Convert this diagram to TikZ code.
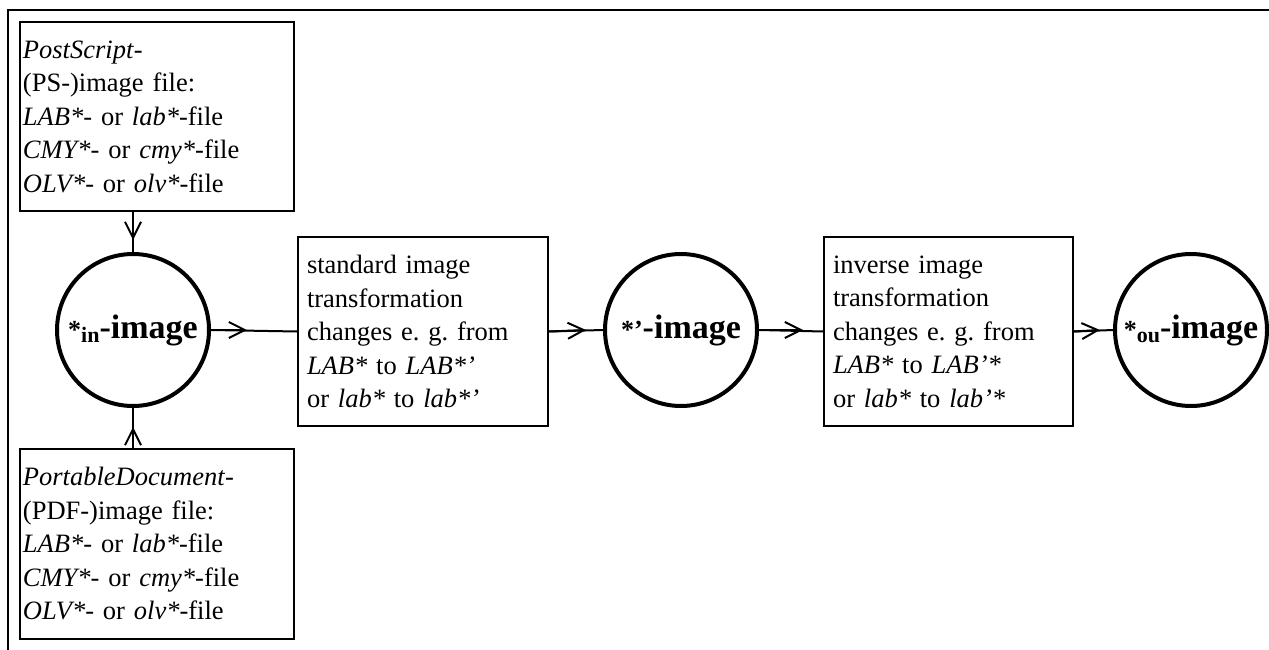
\documentclass[tikz,border=0pt]{standalone}
\usepackage{fontspec}
\setmainfont{Liberation Serif}
\usetikzlibrary{arrows.meta,calc}
\frenchspacing
\newcommand{\stagelabel}[2]{{\fontsize{26}{26}\selectfont\bfseries *}{\fontsize{22}{22}\selectfont\bfseries\raisebox{-4pt}{#1}}{\fontsize{26}{26}\selectfont\bfseries #2}{\fontsize{34}{34}\selectfont\bfseries -image}}
\begin{document}
\begin{tikzpicture}[x=1pt,y=-1pt,
  frame/.style={line width=2pt},
  filebox/.style={draw, line width=2pt, align=left, anchor=north west, inner ysep=0pt,
    font=\fontsize{26.5}{33.5}\selectfont},
  stage/.style={circle, draw, line width=4pt, minimum size=152pt, inner sep=0pt},
  conn/.style={line width=2pt},
  tip/.style={line width=2pt, -{Straight Barb[length=16pt,width=16pt]}}
]
\useasboundingbox (0,0) rectangle (1269,650);
% outer frame (top and left only)
\draw[frame] (8,650) -- (8,10) -- (1269,10);

% file boxes
\node[filebox, inner xsep=3pt, text width=268pt, minimum height=189pt] (ps) at (19,21)
  {\textit{PostScript}-\\(PS-)image file:\\\textit{LAB*}- or \textit{lab*}-file\\\textit{CMY*}- or \textit{cmy*}-file\\\textit{OLV*}- or \textit{olv*}-file};
\node[filebox, inner xsep=3pt, text width=268pt, minimum height=190pt] (pdf) at (19,448)
  {\textit{PortableDocument}-\\(PDF-)image file:\\\textit{LAB*}- or \textit{lab*}-file\\\textit{CMY*}- or \textit{cmy*}-file\\\textit{OLV*}- or \textit{olv*}-file};

% transformation boxes
\node[filebox, inner xsep=9pt, text width=232pt, minimum height=189pt] (std) at (297,236)
  {standard image\\transformation\\changes e. g. from\\\textit{LAB*} to \textit{LAB*'}\\or \textit{lab*} to \textit{lab*'}};
\node[filebox, inner xsep=9pt, text width=231pt, minimum height=189pt] (inv) at (823,236)
  {inverse image\\transformation\\changes e. g. from\\\textit{LAB*} to \textit{LAB'*}\\or \textit{lab*} to \textit{lab'*}};

% image circles
\node[stage] (cin) at (133,330) {\stagelabel{in}{}};
\node[stage] (cpr) at (681,330) {{\fontsize{26}{26}\selectfont\bfseries *'}{\fontsize{34}{34}\selectfont\bfseries -image}};
\node[stage] (cou) at (1191,330) {\stagelabel{ou}{}};

% arrow tip positions
\coordinate (t1) at (133,240);
\coordinate (t2) at (133,427);
\coordinate (t3) at (247,330);
\coordinate (t4) at (586,330);
\coordinate (t5) at (803,330);
\coordinate (t6) at (1100,330);

% connectors
\draw[conn] (cin.north |- ps.south) -- (cin.north);
\draw[tip] (cin.north |- ps.south) -- (t1);
\draw[conn] (cin.south |- pdf.north) -- (cin.south);
\draw[tip] (cin.south |- pdf.north) -- (t2);
\draw[conn] (cin.east) -- (std.west);
\draw[tip] (cin.east) -- (t3);
\draw[conn] (std.east) -- (cpr.west);
\draw[tip] (std.east) -- (t4);
\draw[conn] (cpr.east) -- (inv.west);
\draw[tip] (cpr.east) -- (t5);
\draw[conn] (inv.east) -- (cou.west);
\draw[tip] (inv.east) -- (t6);
\end{tikzpicture}
\end{document}
